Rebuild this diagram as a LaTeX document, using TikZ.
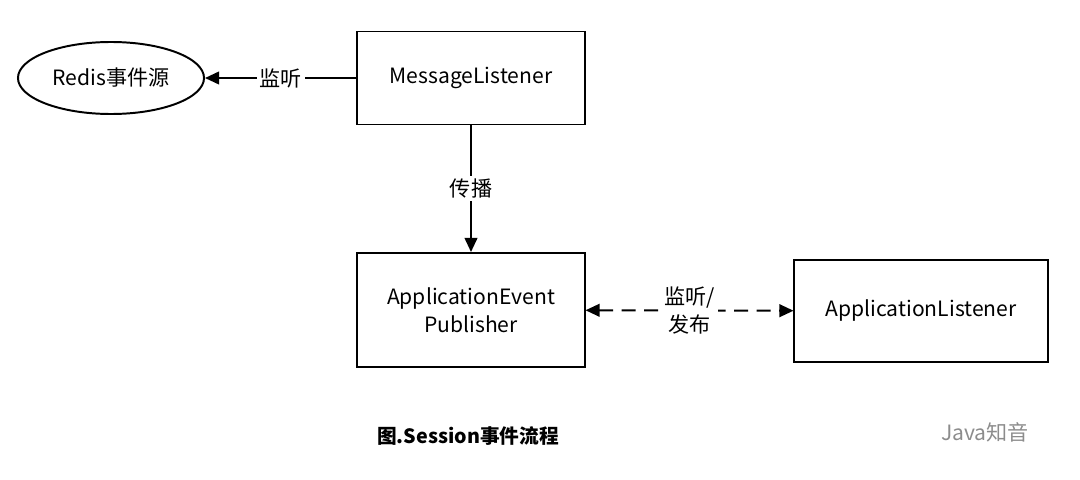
\documentclass[tikz,border=0pt]{standalone}
\usepackage{fontspec}
\setmainfont{Noto Sans CJK SC}
\usetikzlibrary{positioning,shapes,arrows.meta}
\tikzstyle{box}=[rectangle, draw=black, line width=1.4pt, minimum width=5.675cm, minimum height=2.325cm, align=center, font=\fontsize{15}{20}\selectfont]
\tikzstyle{src}=[ellipse, draw=black, line width=1.4pt, minimum width=4.65cm, minimum height=1.8cm, font=\fontsize{15}{20}\selectfont]
\tikzstyle{lbl}=[fill=white, align=center, inner sep=2pt, font=\fontsize{15}{20}\selectfont]
\tikzstyle{link}=[line width=1.4pt, -{Triangle[length=10pt,width=9pt]}]
\begin{document}
\begin{tikzpicture}[x=0.025cm, y=-0.025cm]
      \useasboundingbox (0,0) rectangle (1080,480);

      \node[box] (ML) at (471,78) {MessageListener};
      \node[src] (RS) at (111,78) {Redis事件源};
      \node[box, minimum height=2.85cm] (AEP) at (471,310) {ApplicationEvent\\Publisher};
      \node[box, minimum width=6.325cm, minimum height=2.55cm] (AL) at (921,311) {ApplicationListener};

      % connectors
      \draw[link] (ML) -- node[lbl] {监听} (RS);
      \draw[link] (ML) -- node[lbl] {传播} (AEP);
      \draw[link, {Triangle[length=10pt,width=9pt]}-{Triangle[length=10pt,width=9pt]}, dash pattern=on 10pt off 6pt] (AEP) -- node[lbl] {监听/\\发布} (AL);

      \node[font=\bfseries\fontsize{14}{17}\selectfont] (cap) at (468,436) {图.Session事件流程};
      \node[text=black!45, font=\fontsize{15}{17}\selectfont] (wm) at (985,432) {Java知音};
\end{tikzpicture}
\end{document}
